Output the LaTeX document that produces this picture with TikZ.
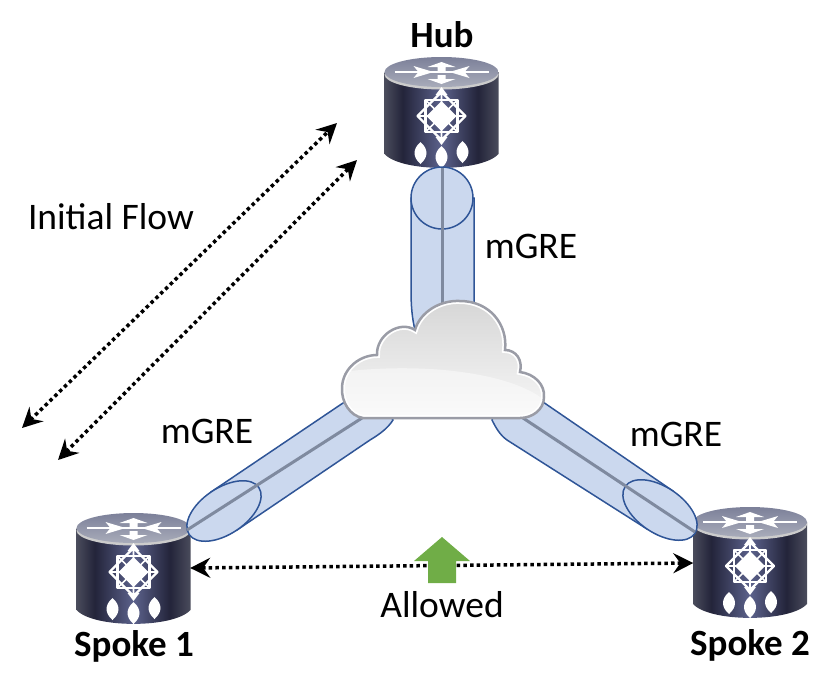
\documentclass[tikz,border=0pt]{standalone}
\usepackage{fontspec}
\setmainfont{Carlito}
\usetikzlibrary{arrows.meta}

\definecolor{tunnelfill}{HTML}{CBD8EE}
\definecolor{tunneledge}{HTML}{2F5597}
\definecolor{tunnelcore}{HTML}{7F8A9F}
\definecolor{cloudedge}{HTML}{9A9CA6}
\definecolor{allowgreen}{HTML}{70AD47}
\definecolor{bodyedge}{HTML}{4A4C5C}
\definecolor{bodydark}{HTML}{23243A}
\definecolor{bodylight}{HTML}{5C628C}
\definecolor{disctop}{HTML}{7C8099}
\definecolor{discbottom}{HTML}{A9ACBA}

\pgfdeclarehorizontalshading{routerbody}{100bp}{
	color(0bp)=(bodyedge); color(25bp)=(bodyedge); color(33bp)=(bodydark);
	color(50bp)=(bodylight); color(66bp)=(bodydark); color(75bp)=(bodyedge);
	color(100bp)=(bodyedge)}

\newcommand{\cloudoutline}{(363,418) .. controls (350,416) and (341,402) .. (342,387)
	.. controls (343,368) and (360,355) .. (377,355)
	.. controls (376,335) and (400,320) .. (415,330)
	.. controls (420,312) and (440,300) .. (460,301)
	.. controls (490,301) and (508,325) .. (505,350)
	.. controls (516,350) and (523,360) .. (520,372)
	.. controls (535,374) and (545,385) .. (544,397)
	.. controls (544,410) and (532,418) .. (520,418) -- cycle}

\newcommand{\portlens}[2]{(#1,#2-11) .. controls (#1+8,#2-4) and (#1+8,#2+4) .. (#1,#2+11) .. controls (#1-8,#2+4) and (#1-8,#2-4) .. cycle}

\tikzset{
	tunnel/.style={draw=tunneledge, fill=tunnelfill, line width=1.5pt},
	tunnelline/.style={draw=tunnelcore, line width=3pt},
	flow/.style={dash pattern=on 3.5pt off 3.2pt, line width=3.5pt, {Stealth[length=20pt,width=20pt,inset=7pt]}-{Stealth[length=20pt,width=20pt,inset=7pt]}},
	plainlabel/.style={font=\fontsize{37.5}{40}\selectfont, inner sep=0pt},
	routerlabel/.style={font=\fontsize{37}{40}\selectfont\bfseries, inner sep=0pt},
	routerbox/.style={minimum width=113pt, minimum height=20pt, inner sep=0pt},
	pics/router/.style={code={
		\shade[shading=routerbody] (-57,0) -- (-57,82) .. controls (-40,100.5) and (40,100.5) .. (57,82) -- (57,0) -- cycle;
		\fill[black!20] (0,2.5) ellipse [x radius=57pt, y radius=15pt];
		\shade[top color=disctop, bottom color=discbottom] (0,0) ellipse [x radius=57pt, y radius=15pt];
		\draw[white, line width=1.4pt] (-47,0) -- (47,0);
		\fill[white] (-28,-6) -- (-8,0) -- (-28,6) -- (-23,0) -- cycle;
		\fill[white] (28,-6) -- (8,0) -- (28,6) -- (23,0) -- cycle;
		\fill[white] (0,-10) -- (14,-5) -- (4,-5) -- (4,-1) -- (-4,-1) -- (-4,-5) -- (-14,-5) -- cycle;
		\fill[white] (0,12) -- (14,7) -- (4,7) -- (4,3) -- (-4,3) -- (-4,7) -- (-14,7) -- cycle;
		\draw[white, line width=2.4pt, line join=round] (0,20) -- (24,44) -- (0,68) -- (-24,44) -- cycle;
		\draw[white, line width=2.4pt, line join=round] (-16,28) -- (16,28) -- (16,60) -- (-16,60) -- cycle;
		\draw[white, line width=1.6pt] (0,20) -- (0,68) (-24,44) -- (24,44) (-16,28) -- (16,60) (-16,60) -- (16,28);
		\fill[white] (0,29) -- (15,44) -- (0,59) -- (-15,44) -- cycle;
		\fill[white] (0,15) -- (6,23) -- (-6,23) -- cycle;
		\fill[white] (0,73) -- (6,65) -- (-6,65) -- cycle;
		\fill[white] \portlens{-21}{81};
		\fill[white] \portlens{0}{85};
		\fill[white] \portlens{21}{80};
	}}
}

\begin{document}
\begin{tikzpicture}[x=1pt, y=-1pt]
	\useasboundingbox (0,0) rectangle (833,689);

	\node[routerbox] (hub) at (441.5,112) {};
	\node[routerbox] (spokeone) at (133.5,568) {};
	\node[routerbox] (spoketwo) at (750,563) {};

	\pic at (441.5,72) {router};
	\pic at (133.5,528) {router};
	\pic at (750,522) {router};

	\coordinate (hubport) at (442,168);
	\coordinate (hubcore) at (442,310);
	\coordinate (oneport) at (187,530);
	\coordinate (onecore) at (362,418);
	\coordinate (twoport) at (695,532);
	\coordinate (twocore) at (523,418);

	\draw[tunnel] (411,198) -- (411,290) .. controls (411,305) and (412,318) .. (415,330) -- (474,330) -- (474,198) -- cycle;
	\draw[tunnel] (211,492) -- (343,403) -- (380,400) -- (393,420) .. controls (388,428) and (380,434) .. (370,440) -- (237,530) -- cycle;
	\draw[tunnel] (673,491) -- (543,402) -- (500,400) -- (492,420) .. controls (496,428) and (500,435) .. (507,440) -- (647,529) -- cycle;

	\draw[tunnel] (442,198) circle [x radius=31pt, y radius=31pt];
	\draw[tunnel] (224,511) ellipse [x radius=42pt, y radius=23pt, rotate=34];
	\draw[tunnel] (660,510) ellipse [x radius=42pt, y radius=23pt, rotate=-34];

	\draw[tunnelline] (hubport) -- (hubcore);
	\draw[tunnelline] (oneport) -- (onecore);
	\draw[tunnelline] (twoport) -- (twocore);

	\shade[top color=black!16, bottom color=black!3] \cloudoutline;
	\begin{scope}
		\clip \cloudoutline;
		\fill[white, opacity=0.45] (342,372) .. controls (420,362) and (510,372) .. (544,400) -- (544,418) -- (342,418) -- cycle;
		\draw[white, line width=6pt] \cloudoutline;
	\end{scope}
	\draw[cloudedge, line width=2.5pt] \cloudoutline;

	\coordinate (flowastart) at (22,428);
	\coordinate (flowaend) at (337,123);
	\coordinate (flowbstart) at (58,460);
	\coordinate (flowbend) at (357,160);

	\draw[flow] (flowastart) -- (flowaend);
	\draw[flow] (flowbstart) -- (flowbend);
	\draw[flow] (spokeone.east) -- (spoketwo.west);

	\fill[allowgreen] (442,537) -- (470,561) -- (456,561) -- (456,583) -- (428,583) -- (428,561) -- (414,561) -- cycle;

	\node[routerlabel] (hublabel) at (442,35) {Hub};
	\node[routerlabel] (spokeonelabel) at (134,646) {Spoke 1};
	\node[routerlabel] (spoketwolabel) at (750,645) {Spoke 2};

	\node[plainlabel] (flowlabel) at (111,217) {Initial Flow};
	\node[plainlabel] (hubtunnel) at (531,246) {mGRE};
	\node[plainlabel] (onetunnel) at (207,431) {mGRE};
	\node[plainlabel] (twotunnel) at (676,434) {mGRE};
	\node[plainlabel] (allowedlabel) at (442,605) {Allowed};
\end{tikzpicture}
\end{document}
